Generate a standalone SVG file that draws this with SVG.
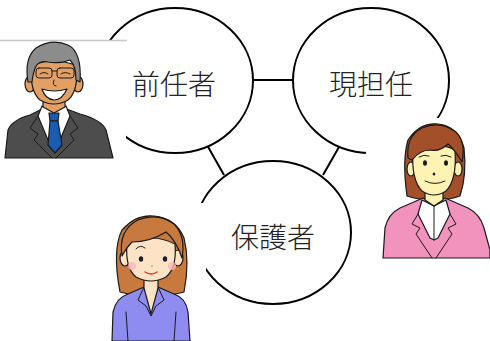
<svg xmlns="http://www.w3.org/2000/svg" width="490" height="341" viewBox="0 0 490 341">
  <defs>
    <style>
      .node { fill: #ffffff; stroke: #000000; stroke-width: 2; }
      .label { font-family: "Noto Sans CJK JP", "Noto Sans CJK SC", sans-serif; font-size: 28px; font-weight: 300; fill: #222222; text-anchor: middle; }
      .link { stroke: #000000; stroke-width: 2; fill: none; }
      .ink { stroke: #1a1a1a; stroke-width: 1.2; stroke-linejoin: round; stroke-linecap: round; }
      .thin { stroke: #1a1a1a; stroke-width: 1; fill: none; stroke-linecap: round; }
    </style>
  </defs>

  <rect width="490" height="341" fill="#ffffff"/>

  <!-- connectors -->
  <g id="connectors">
    <line class="link" x1="252" y1="80" x2="294" y2="80"/>
    <line class="link" x1="207" y1="145" x2="224" y2="175"/>
    <line class="link" x1="339" y1="147" x2="323" y2="175"/>
  </g>

  <!-- nodes -->
  <g id="node-predecessor">
    <ellipse class="node" cx="175" cy="80.5" rx="78" ry="72.5"/>
    <text class="label" x="174" y="95">前任者</text>
  </g>
  <g id="node-current-teacher">
    <ellipse class="node" cx="371" cy="80.5" rx="78" ry="72.5"/>
    <text class="label" x="371" y="95">現担任</text>
  </g>
  <g id="node-guardian">
    <ellipse class="node" cx="273" cy="232.5" rx="78" ry="71.5"/>
    <text class="label" x="273" y="248">保護者</text>
  </g>

  <!-- man in a suit -->
  <g id="figure-man">
    <rect x="0" y="40" width="126" height="118" fill="#ffffff"/>
    <line x1="0" y1="40.5" x2="127" y2="40.5" stroke="#c8c8c8" stroke-width="1.5"/>
    <!-- suit -->
    <path class="ink" fill="#4d4d4d" d="M5,158 L8,130 Q12,120 30,115 L44,108 L54,112 L64,108 L80,114 Q102,120 106,130 L113,158 Z"/>
    <!-- shirt -->
    <path class="ink" fill="#ffffff" d="M42,106 L54,112 L66,106 L70,116 L60,140 L54,148 L48,140 L38,116 Z"/>
    <!-- lapels -->
    <path class="thin" d="M38,116 L30,128 L38,134 L34,140 L52,158"/>
    <path class="thin" d="M70,116 L78,128 L70,134 L74,140 L56,158"/>
    <!-- tie -->
    <path class="ink" fill="#1b5cb3" d="M49,113 L59,113 L58,121 L50,121 Z"/>
    <path class="ink" fill="#1b5cb3" d="M50,121 L58,121 L62,145 L55,153 L48,145 Z"/>
    <!-- neck -->
    <path class="ink" fill="#e2a064" d="M43,96 L43,107 L54,113 L65,107 L65,96 Z"/>
    <!-- ears -->
    <ellipse class="ink" fill="#e2a064" cx="30" cy="84" rx="5" ry="8"/>
    <ellipse class="ink" fill="#e2a064" cx="78" cy="84" rx="5" ry="8"/>
    <!-- face -->
    <path class="ink" fill="#e2a064" d="M31,66 Q30,92 40,100 Q54,108 68,100 Q78,92 77,66 Q54,56 31,66 Z"/>
    <!-- hair -->
    <path class="ink" fill="#8c8c8c" d="M28,82 Q24,58 36,48 Q52,38 68,45 Q82,52 80,82 L76,80 Q76,66 70,60 Q60,64 48,62 Q40,60 36,66 Q33,72 32,82 Z"/>
    <!-- glasses -->
    <rect class="thin" x="36" y="68" width="16" height="10" rx="3"/>
    <rect class="thin" x="57" y="68" width="17" height="10" rx="3"/>
    <line class="thin" x1="52" y1="71" x2="57" y2="71"/>
    <path class="thin" d="M40,74 Q44,71 48,74"/>
    <path class="thin" d="M61,74 Q65,71 70,74"/>
    <!-- nose and smile -->
    <path class="thin" d="M54,80 Q52,86 56,86"/>
    <path class="ink" fill="#ffffff" d="M42,89 Q54,93 67,89 Q62,100 54,100 Q45,99 42,89 Z"/>
  </g>

  <!-- woman in a pink jacket -->
  <g id="figure-teacher">
    <rect x="366" y="118" width="124" height="140" fill="#ffffff"/>
    <!-- hair back -->
    <path class="ink" fill="#a3502a" d="M407,196 Q402,160 408,140 Q420,122 438,124 Q458,126 464,148 Q467,175 460,196 Q450,200 434,200 Q418,200 407,196 Z"/>
    <!-- jacket -->
    <path class="ink" fill="#f293bd" d="M383,258 L385,228 Q388,214 400,208 L423,198 L434,204 L445,198 L468,208 Q480,214 484,228 L490,250 L490,258 Z"/>
    <!-- shirt -->
    <path class="ink" fill="#ffffff" d="M422,200 L434,206 L446,200 L450,214 L438,238 L434,240 L430,238 L418,214 Z"/>
    <!-- lapels -->
    <path class="thin" d="M418,214 L412,224 L420,228 L416,234 L432,258"/>
    <path class="thin" d="M450,214 L456,224 L448,228 L452,234 L436,258"/>
    <line class="thin" x1="434" y1="206" x2="434" y2="240"/>
    <!-- neck -->
    <path class="ink" fill="#fff3b4" d="M425,188 L425,200 L434,206 L443,200 L443,188 Z"/>
    <!-- ears -->
    <ellipse class="ink" fill="#fff3b4" cx="411" cy="169" rx="4" ry="7"/>
    <ellipse class="ink" fill="#fff3b4" cx="458" cy="169" rx="4" ry="7"/>
    <!-- face -->
    <path class="ink" fill="#fff3b4" d="M413,150 Q411,180 422,191 Q434,199 446,191 Q457,180 455,150 Q434,140 413,150 Z"/>
    <!-- bangs -->
    <path class="ink" fill="#a3502a" d="M408,158 Q406,136 422,128 Q440,120 456,132 Q466,142 462,162 Q455,150 448,144 Q440,152 430,150 Q420,150 412,160 Z"/>
    <!-- eyes, nose, mouth -->
    <path class="thin" d="M419,157 Q424,154 429,156"/>
    <path class="thin" d="M441,156 Q446,154 451,157"/>
    <ellipse cx="425" cy="163" rx="2" ry="2.8" fill="#1a1a1a"/>
    <ellipse cx="446" cy="163" rx="2" ry="2.8" fill="#1a1a1a"/>
    <ellipse cx="434" cy="174" rx="1.3" ry="1.5" fill="#1a1a1a"/>
    <path class="thin" d="M425,181 Q435,186 445,181"/>
  </g>

  <!-- woman in a blue blouse -->
  <g id="figure-guardian">
    <rect x="100" y="203" width="106" height="138" fill="#ffffff"/>
    <!-- hair back -->
    <path class="ink" fill="#c7793e" d="M120,292 Q112,250 122,230 Q136,214 154,216 Q176,218 184,238 Q190,262 184,292 Q170,296 152,296 Q134,296 120,292 Z"/>
    <!-- blouse -->
    <path class="ink" fill="#8e8cf0" d="M112,341 L113,312 Q116,298 128,294 L144,287 L151,292 L158,287 L174,294 Q186,298 188,312 L190,341 Z"/>
    <path class="thin" d="M144,287 L138,300 L146,306 L151,316 L156,306 L164,300 L158,287"/>
    <path class="thin" d="M126,312 L128,341"/>
    <path class="thin" d="M176,312 L174,341"/>
    <!-- neck -->
    <path class="ink" fill="#fde3c6" d="M144,276 L144,288 L151,314 L158,288 L158,276 Z"/>
    <!-- ears -->
    <ellipse class="ink" fill="#fde3c6" cx="125" cy="258" rx="5" ry="8"/>
    <ellipse class="ink" fill="#fde3c6" cx="178" cy="258" rx="5" ry="8"/>
    <!-- face -->
    <path class="ink" fill="#fde3c6" d="M127,244 Q125,268 136,277 Q151,285 166,277 Q177,268 175,244 Q151,232 127,244 Z"/>
    <!-- bangs -->
    <path class="ink" fill="#c7793e" d="M122,256 Q118,230 138,220 Q158,212 174,224 Q186,236 182,258 Q176,240 166,232 Q150,242 132,242 Q126,248 122,256 Z"/>
    <!-- face details -->
    <path class="thin" d="M136,249 Q140,244 145,248"/>
    <ellipse cx="141" cy="259" rx="2.2" ry="2.8" fill="#1a1a3a"/>
    <ellipse cx="165" cy="259" rx="2.2" ry="2.8" fill="#1a1a3a"/>
    <circle cx="132" cy="266" r="4" fill="#f7b9b9" opacity="0.8"/>
    <circle cx="172" cy="266" r="4" fill="#f7b9b9" opacity="0.8"/>
    <circle cx="152" cy="266" r="1" fill="#e0a080"/>
    <path d="M145,272 Q151,276 157,272" fill="none" stroke="#e03030" stroke-width="1.4" stroke-linecap="round"/>
  </g>
</svg>
